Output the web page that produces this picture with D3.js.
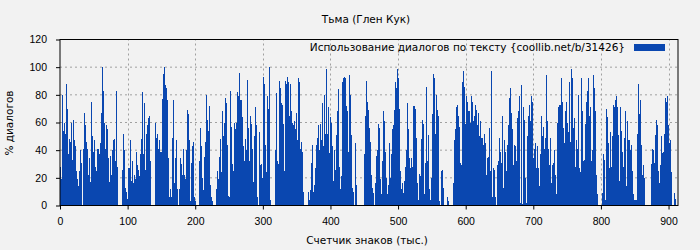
<!DOCTYPE html>
<html>
<head>
<meta charset="utf-8">
<script src="https://cdn.jsdelivr.net/npm/d3@7"></script>
<style>
  body { margin: 0; background: #f2f2f2; }
  svg { display: block; font-family: "DejaVu Sans", sans-serif; }
</style>
</head>
<body>
<svg id="chart" width="700" height="250"></svg>
<script>
const chartTitle = 'Тьма (Глен Кук)';
const legendLabel = 'Использование диалогов по тексту {coollib.net/b/31426}';
const xLabel = 'Счетчик знаков (тыс.)';
const yLabel = '% диалогов';
const xTicks = [0, 100, 200, 300, 400, 500, 600, 700, 800, 900];
const yTicks = [0, 20, 40, 60, 80, 100, 120];
const xMax = 914;    // thousand chars
const binStep = 1.48; // thousand chars per bar

// dialogue share per bin
const dialogShare = [
  28,19,80,54,60,52,88,70,37,48,46,60,33,62,47,43,25,19,14,25,40,31,0,41,67,58,46,41,22,34,17,75,50,39,47,28,25,41,41,37,45,67,100,83,60,41,58,55,34,17,36,22,40,47,
  48,32,83,28,0,0,0,0,26,52,40,13,10,5,27,27,47,18,32,16,22,19,39,29,26,21,37,48,82,37,74,26,52,58,63,65,32,0,0,0,0,60,49,52,41,47,39,39,77,95,100,87,85,76,34,6,12,6,
  49,76,16,34,47,12,0,12,34,30,22,41,22,19,40,69,66,47,3,31,43,46,6,3,0,0,0,32,56,43,20,11,35,46,80,62,54,72,15,6,3,0,0,0,12,25,19,35,48,24,68,50,60,78,74,44,7,6,
  83,57,30,25,60,55,60,82,79,96,76,76,64,43,32,48,40,91,56,32,65,59,41,17,50,71,58,6,0,53,29,30,20,93,88,44,24,79,70,100,4,0,0,0,0,40,81,32,30,90,85,74,73,59,25,90,88,93,
  89,65,88,68,60,58,61,55,67,47,92,89,41,46,39,10,0,0,0,0,10,4,11,31,44,10,15,27,44,49,58,40,59,47,74,43,80,52,99,52,71,38,64,60,43,18,40,26,51,68,84,28,12,21,89,92,93,92,
  72,68,39,94,80,51,13,10,0,45,15,0,0,0,0,0,0,0,37,65,90,75,69,56,46,22,13,9,0,16,36,40,59,56,19,8,32,68,61,39,20,8,15,45,20,37,55,58,69,89,85,99,92,70,25,12,16,9,
  18,28,40,74,55,34,27,34,28,72,72,70,49,16,4,23,21,48,62,59,8,31,86,32,51,12,4,20,66,95,92,52,80,69,65,3,0,25,26,13,0,0,0,6,3,0,0,0,0,16,47,55,71,73,65,57,31,29,
  89,97,86,59,79,75,68,68,60,79,75,61,65,73,69,58,67,50,61,49,49,44,52,45,22,34,35,56,25,97,6,27,26,6,0,29,32,49,39,31,65,13,47,39,25,44,58,78,85,67,55,29,44,43,32,63,68,79,
  2,87,1,71,62,20,2,50,65,73,61,79,75,34,41,45,27,43,27,14,37,65,50,57,41,49,94,61,41,29,49,16,29,31,40,22,8,60,71,73,73,92,75,56,45,68,75,60,53,89,46,99,92,56,63,28,47,41,
  80,27,24,92,68,32,33,59,75,83,92,65,71,32,40,94,85,68,22,8,0,0,0,0,9,37,33,4,70,64,45,27,53,28,50,73,71,76,79,71,51,18,71,54,39,28,49,68,14,61,47,47,40,44,25,8,4,4,
  4,52,88,66,76,44,22,29,20,0,0,0,0,0,0,30,41,40,31,51,62,58,25,16,29,50,38,39,52,78,75,79,58,45,47,24,0,0,9,5
];

const barColor = '#0a47b0';
const gridColor = '#a0a0a0';
const fontSize = 10.5;

const margin = {top: 39.5, right: 22, bottom: 44.5, left: 60};
const width = 700, height = 250;

const svg = d3.select('#chart');

const x = d3.scaleLinear()
  .domain([0, xMax])
  .range([margin.left, width - margin.right]);

const y = d3.scaleLinear()
  .domain([0, 120])
  .range([height - margin.bottom, margin.top]);

// grid
svg.append('g')
  .selectAll('line')
  .data(xTicks.filter(d => d > 0))
  .join('line')
  .attr('x1', d => Math.round(x(d)) + 0.5)
  .attr('x2', d => Math.round(x(d)) + 0.5)
  .attr('y1', y(0))
  .attr('y2', y(120))
  .attr('stroke', gridColor)
  .attr('stroke-dasharray', '2,3');

svg.append('g')
  .selectAll('line')
  .data(yTicks.filter(d => d > 0 && d < 120))
  .join('line')
  .attr('x1', x(0))
  .attr('x2', x(xMax))
  .attr('y1', d => y(d))
  .attr('y2', d => y(d))
  .attr('stroke', gridColor)
  .attr('stroke-dasharray', '2,3');

// bars
svg.append('g')
  .attr('shape-rendering', 'crispEdges')
  .selectAll('rect')
  .data(dialogShare)
  .join('rect')
  .attr('x', (d, i) => x(i * binStep))
  .attr('width', (d, i) => x((i + 1) * binStep) - x(i * binStep))
  .attr('y', d => y(d))
  .attr('height', d => y(0) - y(d))
  .attr('fill', barColor);

// frame
svg.append('rect')
  .attr('x', x(0))
  .attr('y', y(120))
  .attr('width', x(xMax) - x(0))
  .attr('height', y(0) - y(120))
  .attr('fill', 'none')
  .attr('stroke', '#000')
  .attr('stroke-width', 1);

// axes
const xAxis = d3.axisBottom(x).tickValues(xTicks).tickSize(4).tickPadding(8);
const yAxis = d3.axisLeft(y).tickValues(yTicks).tickSize(4).tickPadding(9);

svg.append('g')
  .attr('transform', `translate(0,${y(0)})`)
  .call(xAxis)
  .call(g => g.select('.domain').remove())
  .call(g => g.selectAll('text').attr('font-size', fontSize).attr('fill', '#000').attr('font-family', null));

svg.append('g')
  .attr('transform', `translate(${x(0)},0)`)
  .call(yAxis)
  .call(g => g.select('.domain').remove())
  .call(g => g.selectAll('text').attr('font-size', fontSize).attr('fill', '#000').attr('font-family', null));

// titles
svg.append('text')
  .attr('x', 366)
  .attr('y', 23)
  .attr('text-anchor', 'middle')
  .attr('font-size', fontSize)
  .text(chartTitle);

svg.append('text')
  .attr('x', 367)
  .attr('y', 244)
  .attr('text-anchor', 'middle')
  .attr('font-size', fontSize)
  .text(xLabel);

svg.append('text')
  .attr('transform', 'translate(13,123) rotate(-90)')
  .attr('text-anchor', 'middle')
  .attr('font-size', fontSize)
  .text(yLabel);

// legend
svg.append('text')
  .attr('x', 625)
  .attr('y', 51)
  .attr('text-anchor', 'end')
  .attr('font-size', fontSize)
  .text(legendLabel);

svg.append('rect')
  .attr('x', 634)
  .attr('y', 44)
  .attr('width', 31)
  .attr('height', 7)
  .attr('fill', barColor);
</script>
</body>
</html>
